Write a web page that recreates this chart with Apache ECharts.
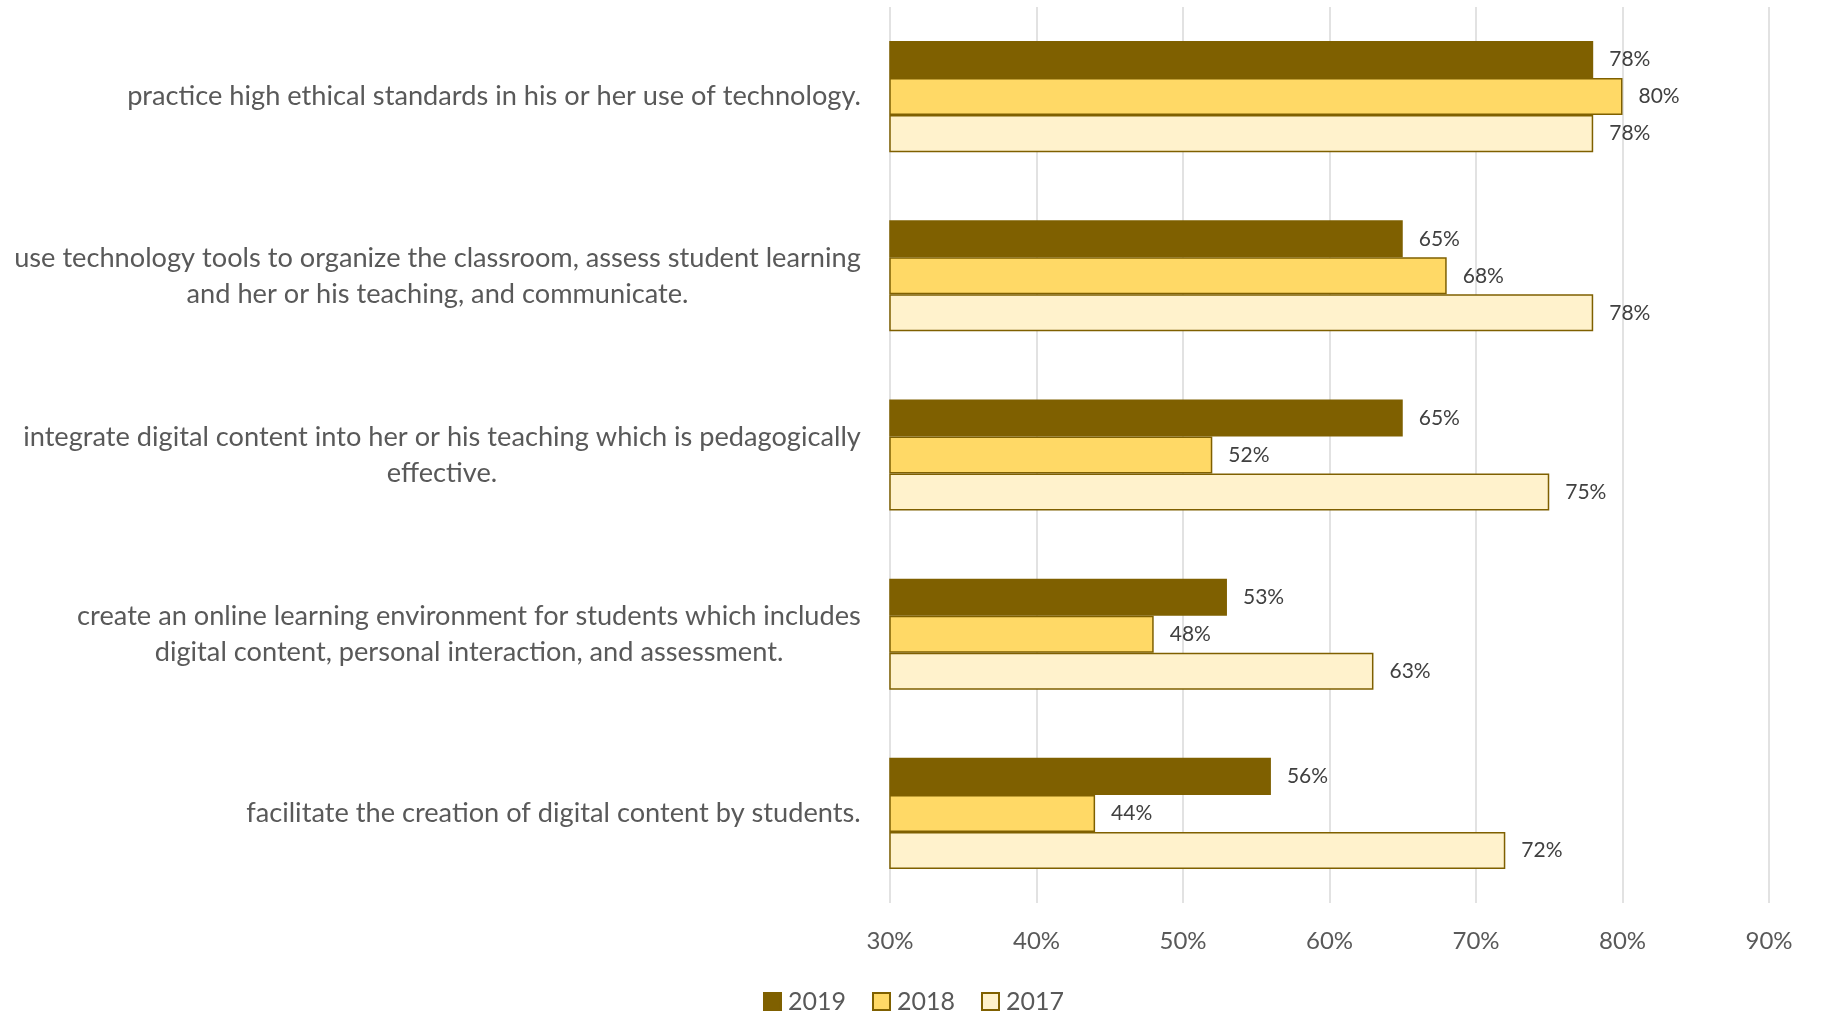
<!DOCTYPE html>
<html>
<head>
<meta charset="utf-8">
<script src="https://cdn.jsdelivr.net/npm/echarts@6/dist/echarts.min.js"></script>
<style>
  html, body { margin: 0; padding: 0; background: #fff; }
  #main { width: 1827px; height: 1015px; }
</style>
</head>
<body>
<div id="main"></div>
<script>
// categories, top to bottom
var categories = [
  'practice high ethical standards in his or her use of technology.',
  'use technology tools to organize the classroom, assess student learning\nand her or his teaching, and communicate.',
  'integrate digital content into her or his teaching which is pedagogically\neffective.',
  'create an online learning environment for students which includes\ndigital content, personal interaction, and assessment.',
  'facilitate the creation of digital content by students.'
];
var years = ['2019', '2018', '2017'];
var values2019 = [78, 65, 65, 53, 56];
var values2018 = [80, 68, 52, 48, 44];
var values2017 = [78, 78, 75, 63, 72];
var tickLabels = ['30%', '40%', '50%', '60%', '70%', '80%', '90%'];

var FONT = 'Lato, "Open Sans", sans-serif';
var TEXT = '#595959';
var CAT_SIZE = 27.2;

// measure lines so multi-line labels are centered within their own block
var ctx = document.createElement('canvas').getContext('2d');
ctx.font = CAT_SIZE + 'px ' + FONT;
var rich = {};
categories.forEach(function (c, i) {
  var w = 0;
  c.split('\n').forEach(function (l) { w = Math.max(w, ctx.measureText(l).width); });
  rich['r' + i] = {width: Math.ceil(w) + 2, align: 'center', fontSize: CAT_SIZE, fontFamily: FONT, color: TEXT, lineHeight: 36};
});

var chart = echarts.init(document.getElementById('main'));

function barSeries(name, data, fill) {
  return {
    name: name,
    type: 'bar',
    data: data,
    barGap: '0%',
    barCategoryGap: '38%',
    itemStyle: {color: fill, borderColor: '#7f6000', borderWidth: 1.5},
    label: {
      show: true,
      position: 'right',
      distance: 16,
      formatter: '{c}%',
      color: '#404040',
      fontSize: 21,
      fontFamily: FONT
    }
  };
}

var option = {
  animation: false,
  backgroundColor: '#fff',
  grid: {left: 890, right: 58, top: 7, bottom: 112},
  xAxis: {
    type: 'value',
    min: 30,
    max: 90,
    interval: 10,
    axisLine: {show: false},
    axisTick: {show: false},
    splitLine: {lineStyle: {color: '#d9d9d9', width: 1.5}},
    axisLabel: {
      margin: 26,
      fontSize: 24,
      fontFamily: FONT,
      color: TEXT,
      formatter: function (v) { return tickLabels[(v - 30) / 10]; }
    }
  },
  yAxis: {
    type: 'category',
    inverse: true,
    data: categories,
    axisLine: {show: false},
    axisTick: {show: false},
    axisLabel: {
      margin: 28,
      align: 'right',
      rich: rich,
      formatter: function (v) {
        var i = categories.indexOf(v);
        return v.split('\n').map(function (l) { return '{r' + i + '|' + l + '}'; }).join('\n');
      }
    }
  },
  legend: {
    data: years,
    top: 984,
    left: 'center',
    icon: 'rect',
    itemWidth: 17,
    itemHeight: 17,
    itemGap: 26,
    textStyle: {fontSize: 25, fontFamily: FONT, color: TEXT, padding: [0, 0, 0, 2]}
  },
  series: [
    barSeries(years[0], values2019, '#7f6000'),
    barSeries(years[1], values2018, '#ffd966'),
    barSeries(years[2], values2017, '#fff2cc')
  ]
};

chart.setOption(option);
</script>
</body>
</html>
